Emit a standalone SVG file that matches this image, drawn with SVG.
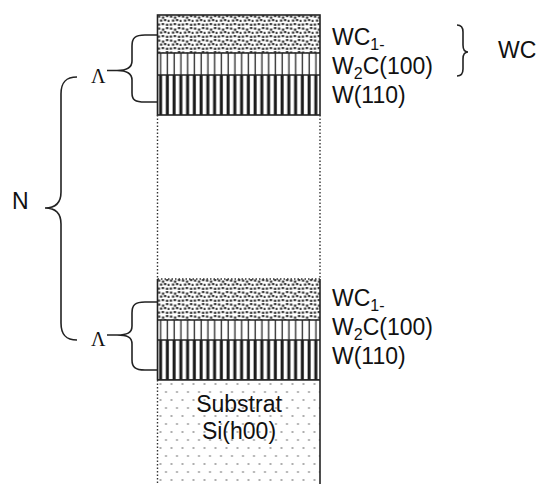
<svg xmlns="http://www.w3.org/2000/svg" width="540" height="484" viewBox="0 0 540 484">
<style>
.lbl{font-family:"Liberation Sans",Arial,sans-serif;font-size:23px;fill:#111}
.sub{font-size:16px}
.lam{font-family:"Liberation Serif","Times New Roman",serif;font-size:20px;fill:#111}
.br{fill:none;stroke:#222;stroke-width:1.6}
.edge{fill:none;stroke:#222;stroke-width:1.6}
.dot{fill:none;stroke:#333;stroke-width:1.4;stroke-dasharray:1.5 2}
</style>
<defs>
<pattern id="pDots" patternUnits="userSpaceOnUse" x="157.5" y="15" width="12" height="12">
<rect width="12" height="12" fill="#fff"/>
<g fill="#222">
<rect x="0.5" y="0.5" width="2.2" height="2.2"/><rect x="4.5" y="1.5" width="2.2" height="2.2"/><rect x="8.5" y="0" width="2.2" height="2.2"/>
<rect x="2.5" y="4.5" width="2.2" height="2.2"/><rect x="6.5" y="4" width="2.2" height="2.2"/><rect x="10.3" y="4.8" width="2.2" height="2.2"/>
<rect x="0.3" y="8.5" width="2.2" height="2.2"/><rect x="4.3" y="8" width="2.2" height="2.2"/><rect x="8.5" y="8.7" width="2.2" height="2.2"/>
</g>
</pattern>
<pattern id="pThin" patternUnits="userSpaceOnUse" x="157.5" width="6.75" height="10">
<rect width="6.75" height="10" fill="#fff"/>
<rect x="2.5" width="1.4" height="10" fill="#333"/>
</pattern>
<pattern id="pThick" patternUnits="userSpaceOnUse" x="157.5" width="6.75" height="10">
<rect width="6.75" height="10" fill="#fff"/>
<rect x="1.6" width="3" height="10" fill="#1a1a1a"/>
</pattern>
<pattern id="pSub" patternUnits="userSpaceOnUse" x="157.5" y="380" width="11" height="16">
<rect width="11" height="16" fill="#fff"/>
<circle cx="3" cy="4" r="0.9" fill="#888"/>
<circle cx="8.5" cy="12" r="0.9" fill="#888"/>
</pattern>
</defs>

<g id="top-stack">
<rect x="157.5" y="15" width="162.5" height="38" fill="url(#pDots)"/>
<rect x="157.5" y="53" width="162.5" height="22" fill="url(#pThin)"/>
<rect x="157.5" y="75" width="162.5" height="40" fill="url(#pThick)"/>
<rect x="157.5" y="15" width="162.5" height="100" class="edge"/>
<line x1="157.5" y1="53" x2="320" y2="53" class="edge"/>
<line x1="157.5" y1="75" x2="320" y2="75" class="edge"/>
</g>

<g id="middle">
<line x1="157.5" y1="115" x2="157.5" y2="279" class="dot"/>
<line x1="320" y1="115" x2="320" y2="279" class="dot"/>
</g>

<g id="bottom-stack">
<rect x="157.5" y="279" width="162.5" height="41" fill="url(#pDots)"/>
<rect x="157.5" y="320" width="162.5" height="20" fill="url(#pThin)"/>
<rect x="157.5" y="340" width="162.5" height="40" fill="url(#pThick)"/>
<line x1="157.5" y1="279" x2="320" y2="279" class="dot"/>
<line x1="157.5" y1="279" x2="157.5" y2="380" class="edge"/>
<line x1="320" y1="279" x2="320" y2="380" class="edge"/>
<line x1="157.5" y1="320" x2="320" y2="320" class="edge"/>
<line x1="157.5" y1="340" x2="320" y2="340" class="edge"/>
<line x1="157.5" y1="380" x2="320" y2="380" class="edge"/>
</g>

<g id="substrate">
<rect x="157.5" y="380" width="162.5" height="104" fill="url(#pSub)"/>
<line x1="157.5" y1="380" x2="157.5" y2="484" class="dot" stroke="#777"/>
<line x1="320" y1="380" x2="320" y2="484" class="edge"/>
<line x1="157.5" y1="380" x2="320" y2="380" class="edge"/>
<text class="lbl" x="239" y="412" text-anchor="middle">Substrat</text>
<text class="lbl" x="239" y="439" text-anchor="middle">Si(h00)</text>
</g>

<g id="labels-top">
<text class="lbl" x="332" y="45">WC<tspan class="sub" dy="5">1-</tspan></text>
<text class="lbl" x="332" y="74">W<tspan class="sub" dy="5">2</tspan><tspan dy="-5">C(100)</tspan></text>
<text class="lbl" x="332" y="103">W(110)</text>
</g>

<g id="labels-bottom">
<text class="lbl" x="332" y="306">WC<tspan class="sub" dy="5">1-</tspan></text>
<text class="lbl" x="332" y="335">W<tspan class="sub" dy="5">2</tspan><tspan dy="-5">C(100)</tspan></text>
<text class="lbl" x="332" y="364">W(110)</text>
</g>

<g id="wc-label">
<text class="lbl" x="498" y="58">WC</text>
</g>

<g id="n-label">
<text class="lbl" x="12" y="209">N</text>
</g>

<g id="lambda-top">
<text class="lam" x="91" y="83">Λ</text>
</g>
<g id="lambda-bottom">
<text class="lam" x="91" y="346">Λ</text>
</g>

<g id="braces">
<path class="br" d="M157,35 L145,35 C135,35 132,38 132,46 L132,61 C132,68 127,70.5 117,70.5 L107,70.5 M117,70.5 C127,70.5 132,73 132,80 L132,93 C132,100 135,102 145,102 L157,102"/>
<path class="br" d="M157,302 L145,302 C135,302 132,305 132,313 L132,326 C132,333 127,335 117,335 L107,335 M117,335 C127,335 132,337 132,344 L132,360 C132,367 135,370 145,370 L157,370"/>
<path class="br" d="M77,77 C66,77 61,82 61,94 L61,192 C61,203 56,208 45,208 C56,208 61,213 61,224 L61,323 C61,335 66,340 77,340"/>
<path class="br" d="M457,25 C461,25 463,27 463,32 L463,45 C463,50 465,52 468,52 C465,52 463,54 463,59 L463,69 C463,74 461,76 457,76"/>
</g>
</svg>
